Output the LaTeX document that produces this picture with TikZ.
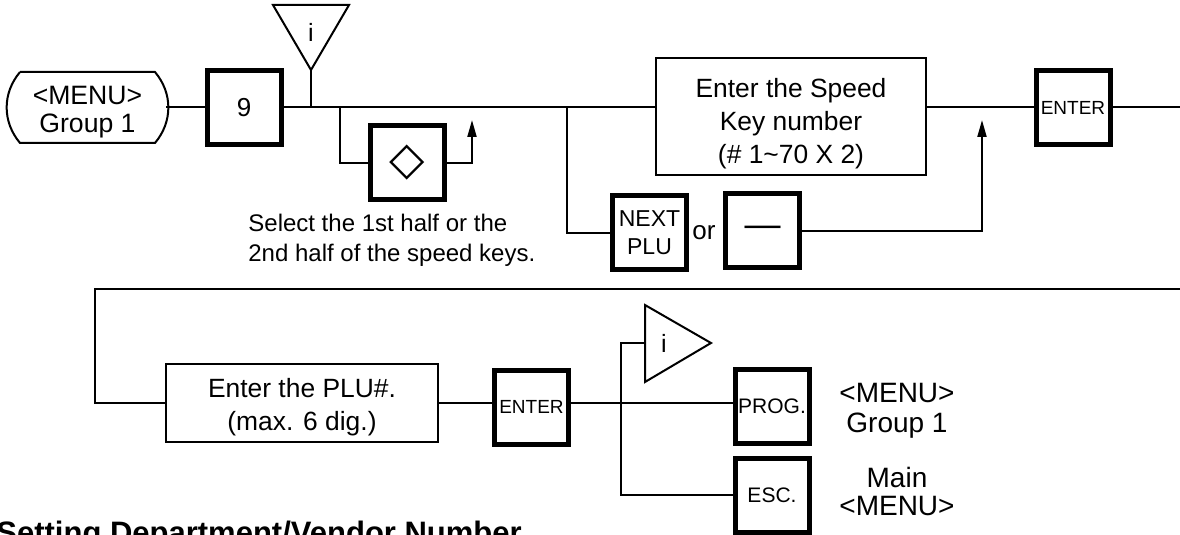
\documentclass[tikz,border=0pt]{standalone}
\usepackage{fontspec}
\setmainfont{Liberation Sans}
\newfontfamily\symfont{DejaVu Sans}
\usetikzlibrary{arrows.meta,calc}

\tikzset{
  key/.style={draw,line width=2.5pt,minimum width=37pt,minimum height=37pt,inner sep=0pt,align=center},
  entrybox/.style={draw,line width=1pt,inner sep=0pt,align=center,font=\fontsize{13.2pt}{16.5pt}\selectfont},
  flow/.style={line width=1pt},
  flowarrow/.style={line width=1pt,-{Triangle[length=8.5pt,width=4.5pt]}},
  txt/.style={inner sep=0pt,align=center,font=\fontsize{12.5pt}{14.5pt}\selectfont}
}

\begin{document}
\begin{tikzpicture}[x=0.5pt,y=-0.5pt]
  \useasboundingbox (0,0) rectangle (1180,535);

  % Upper row
  \draw[flow] (20,72) -- (155,72) to[bend left=40] (155,143) -- (20,143) to[bend left=40] (20,72);
  \node[txt,font=\fontsize{13.3pt}{13.8pt}\selectfont] (menu) at (87.5,112) {<MENU>\\Group 1};
  \coordinate (menuout) at (166,107.5);
  \node[key,font=\fontsize{13pt}{15pt}\selectfont] (nine) at (244,107.5) {9};

  % info mark over the line
  \draw[flow] (273,5) -- (349,5) -- (311,70) -- cycle;
  \node[txt] (info1) at (311,32) {i};
  \coordinate (tip1) at (311,70);

  \node[key] (diam) at (407,163) {\symfont\fontsize{23pt}{23pt}\selectfont ◇};
  \node[txt,anchor=west,align=left,font=\fontsize{12pt}{15pt}\selectfont] (hint) at (248,240)
    {Select the 1st half or the\\2nd half of the speed keys.};

  \node[entrybox,minimum width=135pt,minimum height=58.5pt] (speed) at (791,116.5)
    {\rule{0pt}{17pt}Enter the Speed\\Key number\\(\# 1\textasciitilde70 X 2)};
  \node[key,font=\fontsize{11.5pt}{14pt}\selectfont] (next) at (649.5,233) {NEXT\\PLU};
  \node[txt,font=\fontsize{13pt}{15pt}\selectfont] (or) at (704,233) {or};
  \node[key,font=\fontsize{18pt}{18pt}\selectfont] (dash) at (762.5,231) {\raisebox{-2.5pt}{—}};
  \node[key,font=\fontsize{9.5pt}{11pt}\selectfont] (enter) at (1073,107.5) {ENTER};

  \draw[flow] (menuout) -- (nine.west);
  \draw[flow] (nine.east) -- (speed.west |- nine.east);
  \draw[flow] (tip1) -- (tip1 |- nine.east);
  \coordinate (fork1) at (340,107.5);
  \coordinate (join1) at (472,120);
  \draw[flow] (fork1) |- (diam.west);
  \draw[flowarrow] (diam.east) -| (join1);
  \coordinate (fork2) at (567,107.5);
  \coordinate (join2) at (982,120);
  \draw[flow] (fork2) |- (next.west);
  \draw[flowarrow] (dash.east) -| (join2);
  \draw[flow] (speed.east |- enter.west) -- (enter.west);
  \coordinate (exit1) at (1180,107.5);
  \draw[flow] (enter.east) -- (exit1);

  % Lower row
  \node[entrybox,minimum width=136pt,minimum height=39pt] (plu) at (302,403)
    {\rule{0pt}{13.5pt}Enter the PLU\#.\\(max. 6 dig.)};
  \node[key,font=\fontsize{9.5pt}{11pt}\selectfont] (enter2) at (531.5,407) {ENTER};
  \node[key,font=\fontsize{10.5pt}{12pt}\selectfont] (prog) at (772,406) {PROG.};
  \node[key,font=\fontsize{10.5pt}{12pt}\selectfont] (esc) at (772,495) {ESC.};
  \node[txt,font=\fontsize{14pt}{15pt}\selectfont] (back1) at (897,411) {<MENU>\\Group 1};
  \node[txt,font=\fontsize{14pt}{14pt}\selectfont] (back2) at (897,491) {Main\\<MENU>};

  \draw[flow] (645,305) -- (711,343) -- (645,382) -- cycle;
  \node[txt] (info2) at (664,343) {i};
  \coordinate (tri2) at (645,343);

  \coordinate (entry2) at (1180,289);
  \coordinate (turn2) at (95,289);
  \draw[flow] (entry2) -- (turn2) |- (plu.west);
  \draw[flow] (plu.east) -- (enter2.west |- plu.east);
  \draw[flow] (enter2.east |- plu.east) -- (prog.west |- plu.east);
  \coordinate (fork3) at (621,403);
  \draw[flow] (tri2) -| (fork3) |- (esc.west);

  % next section title, cut by the page
  \node[anchor=north west,inner sep=0pt,font=\bfseries\fontsize{15.5pt}{18pt}\selectfont] (heading) at (-4,521)
    {Setting Department/Vendor Number};
\end{tikzpicture}
\end{document}
